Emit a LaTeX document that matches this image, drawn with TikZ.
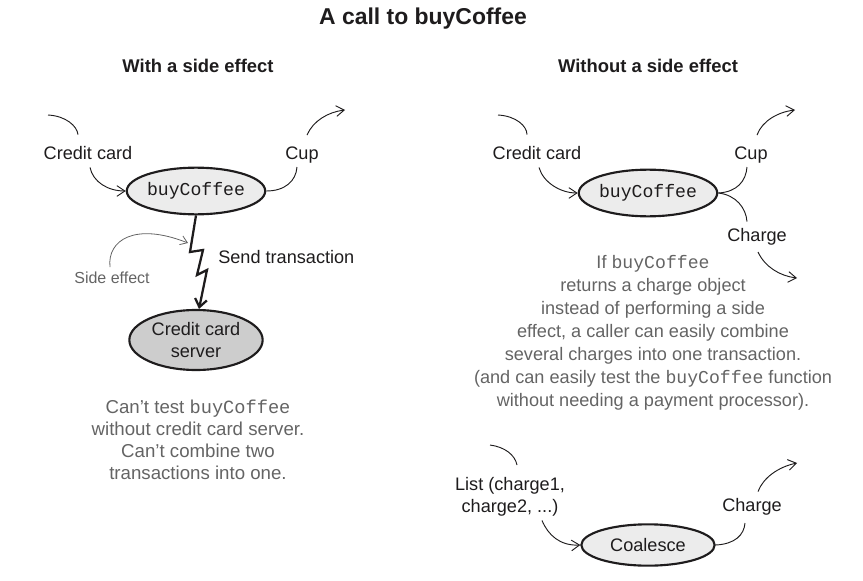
\documentclass[tikz,border=0pt]{standalone}
\usepackage{fontspec}
\setmainfont{Liberation Sans}
\setmonofont{Liberation Mono}
\usetikzlibrary{shapes.geometric,arrows.meta,calc}
\definecolor{txtgray}{RGB}{100,100,100}
\definecolor{lightfill}{RGB}{236,236,236}
\definecolor{darkfill}{RGB}{205,205,205}
\definecolor{ink}{RGB}{30,28,29}
\begin{document}
\begin{tikzpicture}[x=0.75pt,y=-0.75pt,
  lbl/.style={font=\fontsize{13.6}{16}\selectfont, text=ink, inner sep=0pt},
  fn/.style={ellipse, draw=ink, line width=1.6pt, fill=lightfill, minimum width=100pt, minimum height=35pt, inner sep=0pt, text=ink, font=\fontsize{13.6}{16}\selectfont},
  flow/.style={draw=ink, line width=0.7pt, -{Straight Barb[length=6pt,width=8pt]}},
  plainline/.style={draw=ink, line width=0.7pt},
  note/.style={text=txtgray, align=center, inner sep=0pt, anchor=north},
  hdr/.style={font=\bfseries\fontsize{13.8}{16}\selectfont, text=ink, inner sep=0pt, anchor=base}
]
\useasboundingbox (0,0) rectangle (863,581);

% titles
\node[font=\bfseries\fontsize{17.2}{20}\selectfont, text=ink, anchor=base, inner sep=0pt] (title) at (423,25) {A call to buyCoffee};
\node[hdr] (h1) at (198,73) {With a side effect};
\node[hdr] (h2) at (648,73) {Without a side effect};

% ---------- left ----------
\node[fn] (bc1) at (196,191) {\texttt{buyCoffee}};
\node[lbl, anchor=base] (cc1) at (88,160) {Credit card};
\node[lbl, anchor=base] (cup1) at (302,160) {Cup};
\coordinate (cc1in) at (48,115);
\coordinate (cup1out) at (345,110);
\draw[plainline] (cc1in) .. controls (66,116) and (77,126) .. ($(cc1.north)+(-10,-12)$);
\draw[flow] ($(cc1.south)+(2,7)$) .. controls (93,182) and (108,191) .. (bc1.west);
\draw[plainline] (bc1.east) .. controls (285,191) and (296,181) .. ($(cup1.south)+(-5,3)$);
\draw[flow] ($(cup1.north)+(5,-12)$) .. controls (313,121) and (328,112) .. (cup1out);

\node[fn, fill=darkfill, minimum height=45pt, align=center, font=\fontsize{13.6}{16.5}\selectfont] (srv) at (196,340) {Credit card\\server};
\draw[draw=ink, line width=1.7pt, line join=miter, -{Straight Barb[length=6pt,width=9pt]}]
  (bc1.south) -- (190,252) -- (203,250) -- (197,275) -- (207,270) -- ($(srv.north)+(3,0)$);
\node[lbl, anchor=base west] (st) at (218,263) {Send transaction};

\node[font=\fontsize{12}{14}\selectfont, text=txtgray, anchor=base, inner sep=0pt] (se) at (112,283) {Side effect};
\coordinate (zz) at (188,243);
\draw[draw=txtgray, line width=0.6pt, -{Straight Barb[length=5pt,width=7pt]}]
  ($(se.north)+(-2,-4)$) .. controls (107,240) and (135,222) .. (zz);

\node[note, font=\fontsize{14}{16.5}\selectfont] (n1) at (198,400)
  {Can’t test \texttt{buyCoffee}\\without credit card server.\\Can’t combine two\\transactions into one.};

% ---------- right ----------
\node[fn] (bc2) at (648,193) {\texttt{buyCoffee}};
\node[lbl, anchor=base] (cc2) at (537,160) {Credit card};
\node[lbl, anchor=base] (cup2) at (751,160) {Cup};
\node[lbl, anchor=base] (ch1) at (757,241) {Charge};
\coordinate (cc2in) at (498,115);
\coordinate (cup2out) at (795,110);
\coordinate (ch1out) at (797,278);
\draw[plainline] (cc2in) .. controls (516,116) and (527,126) .. ($(cc2.north)+(-10,-12)$);
\draw[flow] ($(cc2.south)+(2,7)$) .. controls (543,182) and (560,193) .. (bc2.west);
\draw[plainline] (bc2.east) .. controls (737,192) and (746,181) .. ($(cup2.south)+(-4,3)$);
\draw[flow] ($(cup2.north)+(6,-12)$) .. controls (762,121) and (778,112) .. (cup2out);
\draw[plainline] (bc2.east) .. controls (736,195) and (746,208) .. ($(ch1.north)+(-10,-6)$);
\draw[flow] ($(ch1.south)+(1,7)$) .. controls (765,267) and (780,276) .. (ch1out);

\node[note, font=\fontsize{13.6}{17.2}\selectfont] (n2) at (653,255)
  {If \texttt{buyCoffee}\\returns a charge object\\instead of performing a side\\effect, a caller can easily combine\\several charges into one transaction.\\(and can easily test the \texttt{buyCoffee} function\\without needing a payment processor).};

\node[fn, minimum height=31pt] (co) at (648,545) {Coalesce};
\node[lbl, align=center, anchor=north, font=\fontsize{13.6}{16.5}\selectfont] (lst) at (510,477) {List (charge1,\\charge2, ...)};
\node[lbl, anchor=base] (ch2) at (752,511) {Charge};
\coordinate (lstin) at (490,445);
\coordinate (ch2out) at (797,463);
\draw[plainline] (lstin) .. controls (505,447) and (515,455) .. ($(lst.north)+(7,-12)$);
\draw[flow] ($(lst.south)+(32,4)$) .. controls (548,535) and (560,546) .. (co.west);
\draw[plainline] (co.east) .. controls (735,544) and (744,535) .. ($(ch2.south)+(-7,8)$);
\draw[flow] ($(ch2.north)+(6,-6)$) .. controls (763,478) and (778,467) .. (ch2out);
\end{tikzpicture}
\end{document}
